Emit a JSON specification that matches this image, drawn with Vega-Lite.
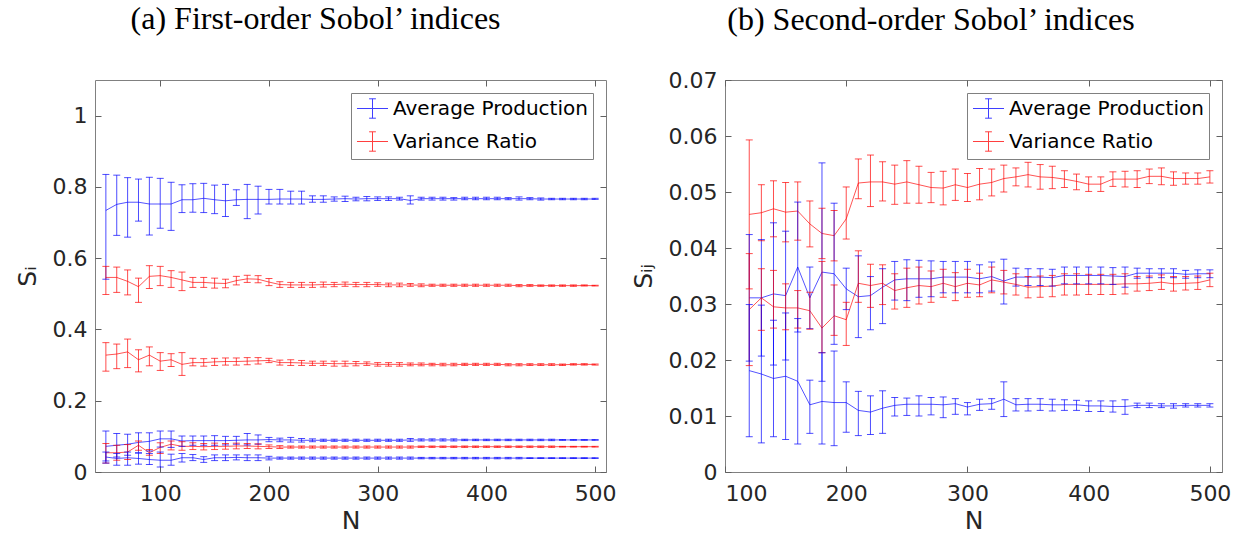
{
  "$schema": "https://vega.github.io/schema/vega-lite/v6.json",
  "autosize": {"type": "none"},
  "padding": {"left": 95, "top": 80, "right": 1138, "bottom": 454},
  "config": {
    "view": {"stroke": "#808080", "strokeWidth": 1},
    "font": "DejaVu Sans",
    "axis": {"grid": false, "domain": false, "tickColor": "#606060", "tickSize": -6, "labelFontSize": 22, "titleFontSize": 25, "labelFont": "DejaVu Sans", "titleFont": "DejaVu Sans", "labelColor": "#262626", "titleColor": "#262626", "titleFontWeight": "normal", "labelPadding": 14},
    "title": {"font": "Liberation Serif", "fontSize": 32, "fontWeight": "normal", "color": "black", "frame": "bounds", "anchor": "middle", "baseline": "alphabetic"},
    "legend": {"orient": "top-right", "offset": 13, "title": null, "padding": 5, "strokeColor": "#808080", "fillColor": "white", "labelFontSize": 20, "labelFont": "DejaVu Sans", "labelColor": "black", "labelLimit": 400, "symbolType": "M-1.6,0H1.6M0,-1V1M-0.35,-1H0.35M-0.35,1H0.35", "symbolSize": 376, "symbolStrokeWidth": 1, "symbolFillColor": "transparent", "symbolOpacity": 0.75, "symbolOffset": 6, "labelOffset": 10, "rowPadding": 8}
  },
  "datasets": {
    "first": [
      {"series":"Average Production","k":1,"N":50,"mean":0.734,"lower":0.541,"upper":0.835},
      {"series":"Average Production","k":1,"N":60,"mean":0.751,"lower":0.664,"upper":0.833},
      {"series":"Average Production","k":1,"N":70,"mean":0.757,"lower":0.659,"upper":0.826},
      {"series":"Average Production","k":1,"N":80,"mean":0.757,"lower":0.704,"upper":0.822},
      {"series":"Average Production","k":1,"N":90,"mean":0.752,"lower":0.665,"upper":0.827},
      {"series":"Average Production","k":1,"N":100,"mean":0.752,"lower":0.684,"upper":0.824},
      {"series":"Average Production","k":1,"N":110,"mean":0.752,"lower":0.678,"upper":0.813},
      {"series":"Average Production","k":1,"N":120,"mean":0.764,"lower":0.728,"upper":0.806},
      {"series":"Average Production","k":1,"N":130,"mean":0.764,"lower":0.729,"upper":0.809},
      {"series":"Average Production","k":1,"N":140,"mean":0.768,"lower":0.728,"upper":0.810},
      {"series":"Average Production","k":1,"N":150,"mean":0.764,"lower":0.725,"upper":0.805},
      {"series":"Average Production","k":1,"N":160,"mean":0.761,"lower":0.717,"upper":0.807},
      {"series":"Average Production","k":1,"N":170,"mean":0.764,"lower":0.748,"upper":0.792},
      {"series":"Average Production","k":1,"N":180,"mean":0.765,"lower":0.711,"upper":0.807},
      {"series":"Average Production","k":1,"N":190,"mean":0.765,"lower":0.724,"upper":0.802},
      {"series":"Average Production","k":1,"N":200,"mean":0.765,"lower":0.752,"upper":0.793},
      {"series":"Average Production","k":1,"N":210,"mean":0.766,"lower":0.752,"upper":0.793},
      {"series":"Average Production","k":1,"N":220,"mean":0.766,"lower":0.752,"upper":0.788},
      {"series":"Average Production","k":1,"N":230,"mean":0.766,"lower":0.752,"upper":0.788},
      {"series":"Average Production","k":1,"N":240,"mean":0.765,"lower":0.757,"upper":0.775},
      {"series":"Average Production","k":1,"N":250,"mean":0.765,"lower":0.757,"upper":0.775},
      {"series":"Average Production","k":1,"N":260,"mean":0.766,"lower":0.760,"upper":0.772},
      {"series":"Average Production","k":1,"N":270,"mean":0.767,"lower":0.759,"upper":0.774},
      {"series":"Average Production","k":1,"N":280,"mean":0.766,"lower":0.761,"upper":0.771},
      {"series":"Average Production","k":1,"N":290,"mean":0.767,"lower":0.761,"upper":0.773},
      {"series":"Average Production","k":1,"N":300,"mean":0.767,"lower":0.762,"upper":0.772},
      {"series":"Average Production","k":1,"N":310,"mean":0.767,"lower":0.762,"upper":0.772},
      {"series":"Average Production","k":1,"N":320,"mean":0.767,"lower":0.763,"upper":0.771},
      {"series":"Average Production","k":1,"N":330,"mean":0.762,"lower":0.752,"upper":0.775},
      {"series":"Average Production","k":1,"N":340,"mean":0.767,"lower":0.763,"upper":0.771},
      {"series":"Average Production","k":1,"N":350,"mean":0.767,"lower":0.763,"upper":0.771},
      {"series":"Average Production","k":1,"N":360,"mean":0.767,"lower":0.763,"upper":0.771},
      {"series":"Average Production","k":1,"N":370,"mean":0.767,"lower":0.763,"upper":0.770},
      {"series":"Average Production","k":1,"N":380,"mean":0.767,"lower":0.764,"upper":0.771},
      {"series":"Average Production","k":1,"N":390,"mean":0.767,"lower":0.764,"upper":0.771},
      {"series":"Average Production","k":1,"N":400,"mean":0.767,"lower":0.764,"upper":0.771},
      {"series":"Average Production","k":1,"N":410,"mean":0.767,"lower":0.764,"upper":0.771},
      {"series":"Average Production","k":1,"N":420,"mean":0.767,"lower":0.764,"upper":0.770},
      {"series":"Average Production","k":1,"N":430,"mean":0.767,"lower":0.763,"upper":0.772},
      {"series":"Average Production","k":1,"N":440,"mean":0.767,"lower":0.764,"upper":0.770},
      {"series":"Average Production","k":1,"N":450,"mean":0.766,"lower":0.763,"upper":0.769},
      {"series":"Average Production","k":1,"N":460,"mean":0.766,"lower":0.764,"upper":0.768},
      {"series":"Average Production","k":1,"N":470,"mean":0.766,"lower":0.764,"upper":0.768},
      {"series":"Average Production","k":1,"N":480,"mean":0.766,"lower":0.764,"upper":0.768},
      {"series":"Average Production","k":1,"N":490,"mean":0.766,"lower":0.764,"upper":0.768},
      {"series":"Average Production","k":1,"N":500,"mean":0.766,"lower":0.765,"upper":0.768},

      {"series":"Variance Ratio","k":1,"N":50,"mean":0.546,"lower":0.498,"upper":0.577},
      {"series":"Variance Ratio","k":1,"N":60,"mean":0.546,"lower":0.504,"upper":0.575},
      {"series":"Variance Ratio","k":1,"N":70,"mean":0.535,"lower":0.497,"upper":0.567},
      {"series":"Variance Ratio","k":1,"N":80,"mean":0.520,"lower":0.476,"upper":0.544},
      {"series":"Variance Ratio","k":1,"N":90,"mean":0.549,"lower":0.515,"upper":0.579},
      {"series":"Variance Ratio","k":1,"N":100,"mean":0.551,"lower":0.523,"upper":0.577},
      {"series":"Variance Ratio","k":1,"N":110,"mean":0.546,"lower":0.518,"upper":0.565},
      {"series":"Variance Ratio","k":1,"N":120,"mean":0.539,"lower":0.509,"upper":0.561},
      {"series":"Variance Ratio","k":1,"N":130,"mean":0.532,"lower":0.518,"upper":0.546},
      {"series":"Variance Ratio","k":1,"N":140,"mean":0.532,"lower":0.518,"upper":0.546},
      {"series":"Variance Ratio","k":1,"N":150,"mean":0.530,"lower":0.516,"upper":0.544},
      {"series":"Variance Ratio","k":1,"N":160,"mean":0.529,"lower":0.517,"upper":0.541},
      {"series":"Variance Ratio","k":1,"N":170,"mean":0.537,"lower":0.525,"upper":0.549},
      {"series":"Variance Ratio","k":1,"N":180,"mean":0.542,"lower":0.532,"upper":0.552},
      {"series":"Variance Ratio","k":1,"N":190,"mean":0.541,"lower":0.531,"upper":0.551},
      {"series":"Variance Ratio","k":1,"N":200,"mean":0.533,"lower":0.523,"upper":0.543},
      {"series":"Variance Ratio","k":1,"N":210,"mean":0.526,"lower":0.518,"upper":0.534},
      {"series":"Variance Ratio","k":1,"N":220,"mean":0.525,"lower":0.518,"upper":0.532},
      {"series":"Variance Ratio","k":1,"N":230,"mean":0.525,"lower":0.518,"upper":0.532},
      {"series":"Variance Ratio","k":1,"N":240,"mean":0.525,"lower":0.518,"upper":0.532},
      {"series":"Variance Ratio","k":1,"N":250,"mean":0.526,"lower":0.519,"upper":0.533},
      {"series":"Variance Ratio","k":1,"N":260,"mean":0.526,"lower":0.520,"upper":0.532},
      {"series":"Variance Ratio","k":1,"N":270,"mean":0.527,"lower":0.521,"upper":0.533},
      {"series":"Variance Ratio","k":1,"N":280,"mean":0.526,"lower":0.520,"upper":0.532},
      {"series":"Variance Ratio","k":1,"N":290,"mean":0.526,"lower":0.520,"upper":0.532},
      {"series":"Variance Ratio","k":1,"N":300,"mean":0.526,"lower":0.521,"upper":0.531},
      {"series":"Variance Ratio","k":1,"N":310,"mean":0.525,"lower":0.520,"upper":0.530},
      {"series":"Variance Ratio","k":1,"N":320,"mean":0.525,"lower":0.520,"upper":0.530},
      {"series":"Variance Ratio","k":1,"N":330,"mean":0.525,"lower":0.521,"upper":0.529},
      {"series":"Variance Ratio","k":1,"N":340,"mean":0.524,"lower":0.520,"upper":0.528},
      {"series":"Variance Ratio","k":1,"N":350,"mean":0.524,"lower":0.521,"upper":0.527},
      {"series":"Variance Ratio","k":1,"N":360,"mean":0.524,"lower":0.521,"upper":0.527},
      {"series":"Variance Ratio","k":1,"N":370,"mean":0.524,"lower":0.521,"upper":0.527},
      {"series":"Variance Ratio","k":1,"N":380,"mean":0.524,"lower":0.521,"upper":0.527},
      {"series":"Variance Ratio","k":1,"N":390,"mean":0.524,"lower":0.521,"upper":0.527},
      {"series":"Variance Ratio","k":1,"N":400,"mean":0.524,"lower":0.521,"upper":0.527},
      {"series":"Variance Ratio","k":1,"N":410,"mean":0.524,"lower":0.521,"upper":0.527},
      {"series":"Variance Ratio","k":1,"N":420,"mean":0.524,"lower":0.521,"upper":0.527},
      {"series":"Variance Ratio","k":1,"N":430,"mean":0.523,"lower":0.520,"upper":0.526},
      {"series":"Variance Ratio","k":1,"N":440,"mean":0.523,"lower":0.521,"upper":0.526},
      {"series":"Variance Ratio","k":1,"N":450,"mean":0.523,"lower":0.521,"upper":0.525},
      {"series":"Variance Ratio","k":1,"N":460,"mean":0.523,"lower":0.521,"upper":0.525},
      {"series":"Variance Ratio","k":1,"N":470,"mean":0.523,"lower":0.521,"upper":0.525},
      {"series":"Variance Ratio","k":1,"N":480,"mean":0.523,"lower":0.521,"upper":0.525},
      {"series":"Variance Ratio","k":1,"N":490,"mean":0.523,"lower":0.522,"upper":0.525},
      {"series":"Variance Ratio","k":1,"N":500,"mean":0.523,"lower":0.522,"upper":0.524},

      {"series":"Variance Ratio","k":2,"N":50,"mean":0.328,"lower":0.283,"upper":0.363},
      {"series":"Variance Ratio","k":2,"N":60,"mean":0.331,"lower":0.290,"upper":0.359},
      {"series":"Variance Ratio","k":2,"N":70,"mean":0.337,"lower":0.293,"upper":0.373},
      {"series":"Variance Ratio","k":2,"N":80,"mean":0.315,"lower":0.281,"upper":0.343},
      {"series":"Variance Ratio","k":2,"N":90,"mean":0.328,"lower":0.298,"upper":0.351},
      {"series":"Variance Ratio","k":2,"N":100,"mean":0.311,"lower":0.285,"upper":0.335},
      {"series":"Variance Ratio","k":2,"N":110,"mean":0.315,"lower":0.296,"upper":0.332},
      {"series":"Variance Ratio","k":2,"N":120,"mean":0.302,"lower":0.271,"upper":0.335},
      {"series":"Variance Ratio","k":2,"N":130,"mean":0.307,"lower":0.298,"upper":0.319},
      {"series":"Variance Ratio","k":2,"N":140,"mean":0.307,"lower":0.297,"upper":0.318},
      {"series":"Variance Ratio","k":2,"N":150,"mean":0.309,"lower":0.299,"upper":0.319},
      {"series":"Variance Ratio","k":2,"N":160,"mean":0.310,"lower":0.300,"upper":0.320},
      {"series":"Variance Ratio","k":2,"N":170,"mean":0.310,"lower":0.300,"upper":0.320},
      {"series":"Variance Ratio","k":2,"N":180,"mean":0.311,"lower":0.301,"upper":0.321},
      {"series":"Variance Ratio","k":2,"N":190,"mean":0.312,"lower":0.303,"upper":0.321},
      {"series":"Variance Ratio","k":2,"N":200,"mean":0.313,"lower":0.307,"upper":0.319},
      {"series":"Variance Ratio","k":2,"N":210,"mean":0.307,"lower":0.300,"upper":0.314},
      {"series":"Variance Ratio","k":2,"N":220,"mean":0.307,"lower":0.299,"upper":0.315},
      {"series":"Variance Ratio","k":2,"N":230,"mean":0.306,"lower":0.299,"upper":0.313},
      {"series":"Variance Ratio","k":2,"N":240,"mean":0.305,"lower":0.299,"upper":0.311},
      {"series":"Variance Ratio","k":2,"N":250,"mean":0.305,"lower":0.299,"upper":0.311},
      {"series":"Variance Ratio","k":2,"N":260,"mean":0.304,"lower":0.297,"upper":0.311},
      {"series":"Variance Ratio","k":2,"N":270,"mean":0.304,"lower":0.297,"upper":0.311},
      {"series":"Variance Ratio","k":2,"N":280,"mean":0.304,"lower":0.298,"upper":0.310},
      {"series":"Variance Ratio","k":2,"N":290,"mean":0.304,"lower":0.299,"upper":0.309},
      {"series":"Variance Ratio","k":2,"N":300,"mean":0.302,"lower":0.297,"upper":0.307},
      {"series":"Variance Ratio","k":2,"N":310,"mean":0.302,"lower":0.297,"upper":0.307},
      {"series":"Variance Ratio","k":2,"N":320,"mean":0.302,"lower":0.297,"upper":0.307},
      {"series":"Variance Ratio","k":2,"N":330,"mean":0.302,"lower":0.298,"upper":0.306},
      {"series":"Variance Ratio","k":2,"N":340,"mean":0.302,"lower":0.298,"upper":0.306},
      {"series":"Variance Ratio","k":2,"N":350,"mean":0.302,"lower":0.298,"upper":0.305},
      {"series":"Variance Ratio","k":2,"N":360,"mean":0.301,"lower":0.298,"upper":0.305},
      {"series":"Variance Ratio","k":2,"N":370,"mean":0.301,"lower":0.298,"upper":0.305},
      {"series":"Variance Ratio","k":2,"N":380,"mean":0.302,"lower":0.299,"upper":0.305},
      {"series":"Variance Ratio","k":2,"N":390,"mean":0.302,"lower":0.299,"upper":0.305},
      {"series":"Variance Ratio","k":2,"N":400,"mean":0.302,"lower":0.299,"upper":0.305},
      {"series":"Variance Ratio","k":2,"N":410,"mean":0.302,"lower":0.299,"upper":0.305},
      {"series":"Variance Ratio","k":2,"N":420,"mean":0.301,"lower":0.298,"upper":0.304},
      {"series":"Variance Ratio","k":2,"N":430,"mean":0.301,"lower":0.298,"upper":0.304},
      {"series":"Variance Ratio","k":2,"N":440,"mean":0.301,"lower":0.299,"upper":0.304},
      {"series":"Variance Ratio","k":2,"N":450,"mean":0.301,"lower":0.299,"upper":0.304},
      {"series":"Variance Ratio","k":2,"N":460,"mean":0.301,"lower":0.299,"upper":0.304},
      {"series":"Variance Ratio","k":2,"N":470,"mean":0.301,"lower":0.299,"upper":0.303},
      {"series":"Variance Ratio","k":2,"N":480,"mean":0.302,"lower":0.300,"upper":0.304},
      {"series":"Variance Ratio","k":2,"N":490,"mean":0.302,"lower":0.300,"upper":0.304},
      {"series":"Variance Ratio","k":2,"N":500,"mean":0.302,"lower":0.300,"upper":0.303},

      {"series":"Average Production","k":2,"N":50,"mean":0.072,"lower":0.031,"upper":0.115},
      {"series":"Average Production","k":2,"N":60,"mean":0.075,"lower":0.042,"upper":0.108},
      {"series":"Average Production","k":2,"N":70,"mean":0.078,"lower":0.047,"upper":0.106},
      {"series":"Average Production","k":2,"N":80,"mean":0.083,"lower":0.054,"upper":0.110},
      {"series":"Average Production","k":2,"N":90,"mean":0.086,"lower":0.059,"upper":0.110},
      {"series":"Average Production","k":2,"N":100,"mean":0.093,"lower":0.070,"upper":0.115},
      {"series":"Average Production","k":2,"N":110,"mean":0.093,"lower":0.069,"upper":0.115},
      {"series":"Average Production","k":2,"N":120,"mean":0.087,"lower":0.072,"upper":0.101},
      {"series":"Average Production","k":2,"N":130,"mean":0.088,"lower":0.075,"upper":0.101},
      {"series":"Average Production","k":2,"N":140,"mean":0.088,"lower":0.075,"upper":0.101},
      {"series":"Average Production","k":2,"N":150,"mean":0.088,"lower":0.075,"upper":0.102},
      {"series":"Average Production","k":2,"N":160,"mean":0.088,"lower":0.076,"upper":0.100},
      {"series":"Average Production","k":2,"N":170,"mean":0.089,"lower":0.078,"upper":0.100},
      {"series":"Average Production","k":2,"N":180,"mean":0.090,"lower":0.076,"upper":0.108},
      {"series":"Average Production","k":2,"N":190,"mean":0.090,"lower":0.078,"upper":0.104},
      {"series":"Average Production","k":2,"N":200,"mean":0.091,"lower":0.085,"upper":0.097},
      {"series":"Average Production","k":2,"N":210,"mean":0.090,"lower":0.085,"upper":0.095},
      {"series":"Average Production","k":2,"N":220,"mean":0.090,"lower":0.084,"upper":0.097},
      {"series":"Average Production","k":2,"N":230,"mean":0.089,"lower":0.084,"upper":0.094},
      {"series":"Average Production","k":2,"N":240,"mean":0.089,"lower":0.085,"upper":0.093},
      {"series":"Average Production","k":2,"N":250,"mean":0.089,"lower":0.086,"upper":0.092},
      {"series":"Average Production","k":2,"N":260,"mean":0.089,"lower":0.086,"upper":0.092},
      {"series":"Average Production","k":2,"N":270,"mean":0.089,"lower":0.086,"upper":0.092},
      {"series":"Average Production","k":2,"N":280,"mean":0.089,"lower":0.086,"upper":0.092},
      {"series":"Average Production","k":2,"N":290,"mean":0.089,"lower":0.086,"upper":0.092},
      {"series":"Average Production","k":2,"N":300,"mean":0.089,"lower":0.086,"upper":0.092},
      {"series":"Average Production","k":2,"N":310,"mean":0.089,"lower":0.086,"upper":0.092},
      {"series":"Average Production","k":2,"N":320,"mean":0.089,"lower":0.086,"upper":0.092},
      {"series":"Average Production","k":2,"N":330,"mean":0.090,"lower":0.086,"upper":0.094},
      {"series":"Average Production","k":2,"N":340,"mean":0.090,"lower":0.087,"upper":0.093},
      {"series":"Average Production","k":2,"N":350,"mean":0.090,"lower":0.087,"upper":0.093},
      {"series":"Average Production","k":2,"N":360,"mean":0.090,"lower":0.087,"upper":0.093},
      {"series":"Average Production","k":2,"N":370,"mean":0.090,"lower":0.087,"upper":0.093},
      {"series":"Average Production","k":2,"N":380,"mean":0.090,"lower":0.088,"upper":0.092},
      {"series":"Average Production","k":2,"N":390,"mean":0.090,"lower":0.088,"upper":0.092},
      {"series":"Average Production","k":2,"N":400,"mean":0.090,"lower":0.088,"upper":0.092},
      {"series":"Average Production","k":2,"N":410,"mean":0.090,"lower":0.088,"upper":0.092},
      {"series":"Average Production","k":2,"N":420,"mean":0.090,"lower":0.088,"upper":0.092},
      {"series":"Average Production","k":2,"N":430,"mean":0.090,"lower":0.088,"upper":0.092},
      {"series":"Average Production","k":2,"N":440,"mean":0.090,"lower":0.088,"upper":0.092},
      {"series":"Average Production","k":2,"N":450,"mean":0.090,"lower":0.088,"upper":0.092},
      {"series":"Average Production","k":2,"N":460,"mean":0.090,"lower":0.088,"upper":0.092},
      {"series":"Average Production","k":2,"N":470,"mean":0.090,"lower":0.089,"upper":0.091},
      {"series":"Average Production","k":2,"N":480,"mean":0.090,"lower":0.089,"upper":0.091},
      {"series":"Average Production","k":2,"N":490,"mean":0.090,"lower":0.089,"upper":0.091},
      {"series":"Average Production","k":2,"N":500,"mean":0.090,"lower":0.089,"upper":0.091},

      {"series":"Variance Ratio","k":3,"N":50,"mean":0.054,"lower":0.025,"upper":0.080},
      {"series":"Variance Ratio","k":3,"N":60,"mean":0.054,"lower":0.033,"upper":0.075},
      {"series":"Variance Ratio","k":3,"N":70,"mean":0.056,"lower":0.035,"upper":0.077},
      {"series":"Variance Ratio","k":3,"N":80,"mean":0.075,"lower":0.061,"upper":0.087},
      {"series":"Variance Ratio","k":3,"N":90,"mean":0.054,"lower":0.047,"upper":0.063},
      {"series":"Variance Ratio","k":3,"N":100,"mean":0.069,"lower":0.052,"upper":0.082},
      {"series":"Variance Ratio","k":3,"N":110,"mean":0.078,"lower":0.062,"upper":0.087},
      {"series":"Variance Ratio","k":3,"N":120,"mean":0.072,"lower":0.061,"upper":0.085},
      {"series":"Variance Ratio","k":3,"N":130,"mean":0.072,"lower":0.063,"upper":0.082},
      {"series":"Variance Ratio","k":3,"N":140,"mean":0.071,"lower":0.062,"upper":0.080},
      {"series":"Variance Ratio","k":3,"N":150,"mean":0.072,"lower":0.063,"upper":0.081},
      {"series":"Variance Ratio","k":3,"N":160,"mean":0.072,"lower":0.064,"upper":0.080},
      {"series":"Variance Ratio","k":3,"N":170,"mean":0.073,"lower":0.065,"upper":0.081},
      {"series":"Variance Ratio","k":3,"N":180,"mean":0.073,"lower":0.066,"upper":0.080},
      {"series":"Variance Ratio","k":3,"N":190,"mean":0.072,"lower":0.065,"upper":0.079},
      {"series":"Variance Ratio","k":3,"N":200,"mean":0.071,"lower":0.066,"upper":0.076},
      {"series":"Variance Ratio","k":3,"N":210,"mean":0.070,"lower":0.066,"upper":0.074},
      {"series":"Variance Ratio","k":3,"N":220,"mean":0.070,"lower":0.067,"upper":0.073},
      {"series":"Variance Ratio","k":3,"N":230,"mean":0.070,"lower":0.067,"upper":0.073},
      {"series":"Variance Ratio","k":3,"N":240,"mean":0.070,"lower":0.067,"upper":0.073},
      {"series":"Variance Ratio","k":3,"N":250,"mean":0.070,"lower":0.067,"upper":0.073},
      {"series":"Variance Ratio","k":3,"N":260,"mean":0.070,"lower":0.067,"upper":0.073},
      {"series":"Variance Ratio","k":3,"N":270,"mean":0.070,"lower":0.067,"upper":0.073},
      {"series":"Variance Ratio","k":3,"N":280,"mean":0.070,"lower":0.067,"upper":0.073},
      {"series":"Variance Ratio","k":3,"N":290,"mean":0.070,"lower":0.067,"upper":0.073},
      {"series":"Variance Ratio","k":3,"N":300,"mean":0.070,"lower":0.067,"upper":0.073},
      {"series":"Variance Ratio","k":3,"N":310,"mean":0.070,"lower":0.067,"upper":0.073},
      {"series":"Variance Ratio","k":3,"N":320,"mean":0.070,"lower":0.067,"upper":0.073},
      {"series":"Variance Ratio","k":3,"N":330,"mean":0.070,"lower":0.067,"upper":0.073},
      {"series":"Variance Ratio","k":3,"N":340,"mean":0.071,"lower":0.069,"upper":0.073},
      {"series":"Variance Ratio","k":3,"N":350,"mean":0.071,"lower":0.069,"upper":0.073},
      {"series":"Variance Ratio","k":3,"N":360,"mean":0.071,"lower":0.069,"upper":0.073},
      {"series":"Variance Ratio","k":3,"N":370,"mean":0.071,"lower":0.069,"upper":0.073},
      {"series":"Variance Ratio","k":3,"N":380,"mean":0.071,"lower":0.069,"upper":0.073},
      {"series":"Variance Ratio","k":3,"N":390,"mean":0.071,"lower":0.069,"upper":0.073},
      {"series":"Variance Ratio","k":3,"N":400,"mean":0.071,"lower":0.069,"upper":0.073},
      {"series":"Variance Ratio","k":3,"N":410,"mean":0.071,"lower":0.069,"upper":0.073},
      {"series":"Variance Ratio","k":3,"N":420,"mean":0.071,"lower":0.069,"upper":0.073},
      {"series":"Variance Ratio","k":3,"N":430,"mean":0.071,"lower":0.069,"upper":0.073},
      {"series":"Variance Ratio","k":3,"N":440,"mean":0.071,"lower":0.069,"upper":0.073},
      {"series":"Variance Ratio","k":3,"N":450,"mean":0.071,"lower":0.069,"upper":0.073},
      {"series":"Variance Ratio","k":3,"N":460,"mean":0.071,"lower":0.069,"upper":0.073},
      {"series":"Variance Ratio","k":3,"N":470,"mean":0.071,"lower":0.070,"upper":0.072},
      {"series":"Variance Ratio","k":3,"N":480,"mean":0.071,"lower":0.070,"upper":0.072},
      {"series":"Variance Ratio","k":3,"N":490,"mean":0.071,"lower":0.070,"upper":0.072},
      {"series":"Variance Ratio","k":3,"N":500,"mean":0.071,"lower":0.070,"upper":0.072},

      {"series":"Average Production","k":3,"N":50,"mean":0.042,"lower":0.025,"upper":0.056},
      {"series":"Average Production","k":3,"N":60,"mean":0.038,"lower":0.019,"upper":0.052},
      {"series":"Average Production","k":3,"N":70,"mean":0.040,"lower":0.019,"upper":0.056},
      {"series":"Average Production","k":3,"N":80,"mean":0.038,"lower":0.022,"upper":0.053},
      {"series":"Average Production","k":3,"N":90,"mean":0.035,"lower":0.021,"upper":0.052},
      {"series":"Average Production","k":3,"N":100,"mean":0.033,"lower":0.014,"upper":0.056},
      {"series":"Average Production","k":3,"N":110,"mean":0.033,"lower":0.019,"upper":0.050},
      {"series":"Average Production","k":3,"N":120,"mean":0.040,"lower":0.028,"upper":0.052},
      {"series":"Average Production","k":3,"N":130,"mean":0.040,"lower":0.032,"upper":0.049},
      {"series":"Average Production","k":3,"N":140,"mean":0.035,"lower":0.027,"upper":0.043},
      {"series":"Average Production","k":3,"N":150,"mean":0.040,"lower":0.032,"upper":0.048},
      {"series":"Average Production","k":3,"N":160,"mean":0.040,"lower":0.032,"upper":0.048},
      {"series":"Average Production","k":3,"N":170,"mean":0.041,"lower":0.034,"upper":0.048},
      {"series":"Average Production","k":3,"N":180,"mean":0.040,"lower":0.032,"upper":0.048},
      {"series":"Average Production","k":3,"N":190,"mean":0.040,"lower":0.032,"upper":0.048},
      {"series":"Average Production","k":3,"N":200,"mean":0.039,"lower":0.034,"upper":0.044},
      {"series":"Average Production","k":3,"N":210,"mean":0.039,"lower":0.036,"upper":0.042},
      {"series":"Average Production","k":3,"N":220,"mean":0.039,"lower":0.036,"upper":0.042},
      {"series":"Average Production","k":3,"N":230,"mean":0.039,"lower":0.036,"upper":0.042},
      {"series":"Average Production","k":3,"N":240,"mean":0.039,"lower":0.036,"upper":0.042},
      {"series":"Average Production","k":3,"N":250,"mean":0.039,"lower":0.036,"upper":0.042},
      {"series":"Average Production","k":3,"N":260,"mean":0.039,"lower":0.036,"upper":0.042},
      {"series":"Average Production","k":3,"N":270,"mean":0.039,"lower":0.036,"upper":0.042},
      {"series":"Average Production","k":3,"N":280,"mean":0.039,"lower":0.036,"upper":0.042},
      {"series":"Average Production","k":3,"N":290,"mean":0.039,"lower":0.036,"upper":0.042},
      {"series":"Average Production","k":3,"N":300,"mean":0.039,"lower":0.036,"upper":0.042},
      {"series":"Average Production","k":3,"N":310,"mean":0.039,"lower":0.036,"upper":0.042},
      {"series":"Average Production","k":3,"N":320,"mean":0.039,"lower":0.036,"upper":0.042},
      {"series":"Average Production","k":3,"N":330,"mean":0.039,"lower":0.036,"upper":0.042},
      {"series":"Average Production","k":3,"N":340,"mean":0.039,"lower":0.037,"upper":0.041},
      {"series":"Average Production","k":3,"N":350,"mean":0.039,"lower":0.037,"upper":0.041},
      {"series":"Average Production","k":3,"N":360,"mean":0.039,"lower":0.037,"upper":0.041},
      {"series":"Average Production","k":3,"N":370,"mean":0.039,"lower":0.037,"upper":0.041},
      {"series":"Average Production","k":3,"N":380,"mean":0.039,"lower":0.037,"upper":0.041},
      {"series":"Average Production","k":3,"N":390,"mean":0.039,"lower":0.037,"upper":0.041},
      {"series":"Average Production","k":3,"N":400,"mean":0.039,"lower":0.037,"upper":0.041},
      {"series":"Average Production","k":3,"N":410,"mean":0.039,"lower":0.037,"upper":0.041},
      {"series":"Average Production","k":3,"N":420,"mean":0.039,"lower":0.037,"upper":0.041},
      {"series":"Average Production","k":3,"N":430,"mean":0.039,"lower":0.037,"upper":0.041},
      {"series":"Average Production","k":3,"N":440,"mean":0.039,"lower":0.038,"upper":0.040},
      {"series":"Average Production","k":3,"N":450,"mean":0.039,"lower":0.038,"upper":0.040},
      {"series":"Average Production","k":3,"N":460,"mean":0.039,"lower":0.038,"upper":0.040},
      {"series":"Average Production","k":3,"N":470,"mean":0.039,"lower":0.038,"upper":0.040},
      {"series":"Average Production","k":3,"N":480,"mean":0.039,"lower":0.038,"upper":0.040},
      {"series":"Average Production","k":3,"N":490,"mean":0.039,"lower":0.038,"upper":0.040},
      {"series":"Average Production","k":3,"N":500,"mean":0.039,"lower":0.038,"upper":0.040}
    ],
    "second": [
      {"series":"Variance Ratio","k":1,"N":120,"mean":0.0460,"lower":0.0327,"upper":0.0593},
      {"series":"Variance Ratio","k":1,"N":130,"mean":0.0463,"lower":0.0413,"upper":0.0513},
      {"series":"Variance Ratio","k":1,"N":140,"mean":0.0470,"lower":0.0420,"upper":0.0520},
      {"series":"Variance Ratio","k":1,"N":150,"mean":0.0464,"lower":0.0411,"upper":0.0517},
      {"series":"Variance Ratio","k":1,"N":160,"mean":0.0466,"lower":0.0414,"upper":0.0518},
      {"series":"Variance Ratio","k":1,"N":170,"mean":0.0443,"lower":0.0402,"upper":0.0484},
      {"series":"Variance Ratio","k":1,"N":180,"mean":0.0426,"lower":0.0381,"upper":0.0471},
      {"series":"Variance Ratio","k":1,"N":190,"mean":0.0422,"lower":0.0377,"upper":0.0467},
      {"series":"Variance Ratio","k":1,"N":200,"mean":0.0452,"lower":0.0416,"upper":0.0509},
      {"series":"Variance Ratio","k":1,"N":210,"mean":0.0516,"lower":0.0488,"upper":0.0559},
      {"series":"Variance Ratio","k":1,"N":220,"mean":0.0518,"lower":0.0474,"upper":0.0566},
      {"series":"Variance Ratio","k":1,"N":230,"mean":0.0518,"lower":0.0484,"upper":0.0554},
      {"series":"Variance Ratio","k":1,"N":240,"mean":0.0514,"lower":0.0478,"upper":0.0548},
      {"series":"Variance Ratio","k":1,"N":250,"mean":0.0518,"lower":0.0480,"upper":0.0556},
      {"series":"Variance Ratio","k":1,"N":260,"mean":0.0513,"lower":0.0480,"upper":0.0546},
      {"series":"Variance Ratio","k":1,"N":270,"mean":0.0508,"lower":0.0481,"upper":0.0535},
      {"series":"Variance Ratio","k":1,"N":280,"mean":0.0507,"lower":0.0477,"upper":0.0537},
      {"series":"Variance Ratio","k":1,"N":290,"mean":0.0513,"lower":0.0485,"upper":0.0541},
      {"series":"Variance Ratio","k":1,"N":300,"mean":0.0508,"lower":0.0483,"upper":0.0533},
      {"series":"Variance Ratio","k":1,"N":310,"mean":0.0514,"lower":0.0486,"upper":0.0542},
      {"series":"Variance Ratio","k":1,"N":320,"mean":0.0517,"lower":0.0493,"upper":0.0541},
      {"series":"Variance Ratio","k":1,"N":330,"mean":0.0524,"lower":0.0500,"upper":0.0548},
      {"series":"Variance Ratio","k":1,"N":340,"mean":0.0527,"lower":0.0511,"upper":0.0543},
      {"series":"Variance Ratio","k":1,"N":350,"mean":0.0531,"lower":0.0509,"upper":0.0553},
      {"series":"Variance Ratio","k":1,"N":360,"mean":0.0527,"lower":0.0505,"upper":0.0549},
      {"series":"Variance Ratio","k":1,"N":370,"mean":0.0526,"lower":0.0506,"upper":0.0546},
      {"series":"Variance Ratio","k":1,"N":380,"mean":0.0523,"lower":0.0508,"upper":0.0538},
      {"series":"Variance Ratio","k":1,"N":390,"mean":0.0519,"lower":0.0504,"upper":0.0532},
      {"series":"Variance Ratio","k":1,"N":400,"mean":0.0514,"lower":0.0501,"upper":0.0527},
      {"series":"Variance Ratio","k":1,"N":410,"mean":0.0514,"lower":0.0501,"upper":0.0527},
      {"series":"Variance Ratio","k":1,"N":420,"mean":0.0523,"lower":0.0510,"upper":0.0536},
      {"series":"Variance Ratio","k":1,"N":430,"mean":0.0523,"lower":0.0509,"upper":0.0537},
      {"series":"Variance Ratio","k":1,"N":440,"mean":0.0523,"lower":0.0508,"upper":0.0538},
      {"series":"Variance Ratio","k":1,"N":450,"mean":0.0528,"lower":0.0515,"upper":0.0541},
      {"series":"Variance Ratio","k":1,"N":460,"mean":0.0528,"lower":0.0513,"upper":0.0543},
      {"series":"Variance Ratio","k":1,"N":470,"mean":0.0524,"lower":0.0512,"upper":0.0536},
      {"series":"Variance Ratio","k":1,"N":480,"mean":0.0524,"lower":0.0514,"upper":0.0534},
      {"series":"Variance Ratio","k":1,"N":490,"mean":0.0524,"lower":0.0514,"upper":0.0534},
      {"series":"Variance Ratio","k":1,"N":500,"mean":0.0527,"lower":0.0516,"upper":0.0538},

      {"series":"Average Production","k":1,"N":120,"mean":0.0311,"lower":0.0198,"upper":0.0424},
      {"series":"Average Production","k":1,"N":130,"mean":0.0311,"lower":0.0207,"upper":0.0415},
      {"series":"Average Production","k":1,"N":140,"mean":0.0318,"lower":0.0191,"upper":0.0445},
      {"series":"Average Production","k":1,"N":150,"mean":0.0315,"lower":0.0200,"upper":0.0430},
      {"series":"Average Production","k":1,"N":160,"mean":0.0366,"lower":0.0250,"upper":0.0482},
      {"series":"Average Production","k":1,"N":170,"mean":0.0311,"lower":0.0256,"upper":0.0366},
      {"series":"Average Production","k":1,"N":180,"mean":0.0357,"lower":0.0162,"upper":0.0552},
      {"series":"Average Production","k":1,"N":190,"mean":0.0354,"lower":0.0228,"upper":0.0480},
      {"series":"Average Production","k":1,"N":200,"mean":0.0327,"lower":0.0290,"upper":0.0364},
      {"series":"Average Production","k":1,"N":210,"mean":0.0313,"lower":0.0240,"upper":0.0386},
      {"series":"Average Production","k":1,"N":220,"mean":0.0315,"lower":0.0254,"upper":0.0349},
      {"series":"Average Production","k":1,"N":230,"mean":0.0330,"lower":0.0265,"upper":0.0363},
      {"series":"Average Production","k":1,"N":240,"mean":0.0343,"lower":0.0307,"upper":0.0376},
      {"series":"Average Production","k":1,"N":250,"mean":0.0345,"lower":0.0306,"upper":0.0379},
      {"series":"Average Production","k":1,"N":260,"mean":0.0345,"lower":0.0312,"upper":0.0378},
      {"series":"Average Production","k":1,"N":270,"mean":0.0345,"lower":0.0313,"upper":0.0377},
      {"series":"Average Production","k":1,"N":280,"mean":0.0348,"lower":0.0320,"upper":0.0376},
      {"series":"Average Production","k":1,"N":290,"mean":0.0348,"lower":0.0320,"upper":0.0376},
      {"series":"Average Production","k":1,"N":300,"mean":0.0348,"lower":0.0320,"upper":0.0376},
      {"series":"Average Production","k":1,"N":310,"mean":0.0345,"lower":0.0320,"upper":0.0370},
      {"series":"Average Production","k":1,"N":320,"mean":0.0349,"lower":0.0323,"upper":0.0375},
      {"series":"Average Production","k":1,"N":330,"mean":0.0341,"lower":0.0300,"upper":0.0380},
      {"series":"Average Production","k":1,"N":340,"mean":0.0348,"lower":0.0332,"upper":0.0364},
      {"series":"Average Production","k":1,"N":350,"mean":0.0348,"lower":0.0333,"upper":0.0363},
      {"series":"Average Production","k":1,"N":360,"mean":0.0348,"lower":0.0333,"upper":0.0363},
      {"series":"Average Production","k":1,"N":370,"mean":0.0347,"lower":0.0332,"upper":0.0362},
      {"series":"Average Production","k":1,"N":380,"mean":0.0351,"lower":0.0336,"upper":0.0366},
      {"series":"Average Production","k":1,"N":390,"mean":0.0351,"lower":0.0336,"upper":0.0366},
      {"series":"Average Production","k":1,"N":400,"mean":0.0351,"lower":0.0336,"upper":0.0366},
      {"series":"Average Production","k":1,"N":410,"mean":0.0351,"lower":0.0336,"upper":0.0366},
      {"series":"Average Production","k":1,"N":420,"mean":0.0350,"lower":0.0335,"upper":0.0365},
      {"series":"Average Production","k":1,"N":430,"mean":0.0349,"lower":0.0330,"upper":0.0366},
      {"series":"Average Production","k":1,"N":440,"mean":0.0355,"lower":0.0346,"upper":0.0364},
      {"series":"Average Production","k":1,"N":450,"mean":0.0355,"lower":0.0347,"upper":0.0363},
      {"series":"Average Production","k":1,"N":460,"mean":0.0355,"lower":0.0347,"upper":0.0363},
      {"series":"Average Production","k":1,"N":470,"mean":0.0355,"lower":0.0347,"upper":0.0363},
      {"series":"Average Production","k":1,"N":480,"mean":0.0353,"lower":0.0346,"upper":0.0360},
      {"series":"Average Production","k":1,"N":490,"mean":0.0354,"lower":0.0347,"upper":0.0361},
      {"series":"Average Production","k":1,"N":500,"mean":0.0354,"lower":0.0347,"upper":0.0361},

      {"series":"Variance Ratio","k":2,"N":120,"mean":0.0290,"lower":0.0190,"upper":0.0390},
      {"series":"Variance Ratio","k":2,"N":130,"mean":0.0311,"lower":0.0253,"upper":0.0363},
      {"series":"Variance Ratio","k":2,"N":140,"mean":0.0295,"lower":0.0257,"upper":0.0360},
      {"series":"Variance Ratio","k":2,"N":150,"mean":0.0293,"lower":0.0254,"upper":0.0336},
      {"series":"Variance Ratio","k":2,"N":160,"mean":0.0293,"lower":0.0257,"upper":0.0324},
      {"series":"Variance Ratio","k":2,"N":170,"mean":0.0288,"lower":0.0255,"upper":0.0321},
      {"series":"Variance Ratio","k":2,"N":180,"mean":0.0257,"lower":0.0213,"upper":0.0376},
      {"series":"Variance Ratio","k":2,"N":190,"mean":0.0279,"lower":0.0244,"upper":0.0334},
      {"series":"Variance Ratio","k":2,"N":200,"mean":0.0272,"lower":0.0226,"upper":0.0303},
      {"series":"Variance Ratio","k":2,"N":210,"mean":0.0337,"lower":0.0303,"upper":0.0395},
      {"series":"Variance Ratio","k":2,"N":220,"mean":0.0333,"lower":0.0294,"upper":0.0371},
      {"series":"Variance Ratio","k":2,"N":230,"mean":0.0337,"lower":0.0299,"upper":0.0370},
      {"series":"Variance Ratio","k":2,"N":240,"mean":0.0324,"lower":0.0291,"upper":0.0354},
      {"series":"Variance Ratio","k":2,"N":250,"mean":0.0329,"lower":0.0294,"upper":0.0364},
      {"series":"Variance Ratio","k":2,"N":260,"mean":0.0333,"lower":0.0300,"upper":0.0366},
      {"series":"Variance Ratio","k":2,"N":270,"mean":0.0331,"lower":0.0303,"upper":0.0359},
      {"series":"Variance Ratio","k":2,"N":280,"mean":0.0337,"lower":0.0312,"upper":0.0362},
      {"series":"Variance Ratio","k":2,"N":290,"mean":0.0331,"lower":0.0306,"upper":0.0356},
      {"series":"Variance Ratio","k":2,"N":300,"mean":0.0337,"lower":0.0312,"upper":0.0362},
      {"series":"Variance Ratio","k":2,"N":310,"mean":0.0334,"lower":0.0313,"upper":0.0355},
      {"series":"Variance Ratio","k":2,"N":320,"mean":0.0343,"lower":0.0320,"upper":0.0366},
      {"series":"Variance Ratio","k":2,"N":330,"mean":0.0339,"lower":0.0318,"upper":0.0360},
      {"series":"Variance Ratio","k":2,"N":340,"mean":0.0335,"lower":0.0316,"upper":0.0354},
      {"series":"Variance Ratio","k":2,"N":350,"mean":0.0330,"lower":0.0311,"upper":0.0349},
      {"series":"Variance Ratio","k":2,"N":360,"mean":0.0331,"lower":0.0312,"upper":0.0350},
      {"series":"Variance Ratio","k":2,"N":370,"mean":0.0332,"lower":0.0313,"upper":0.0351},
      {"series":"Variance Ratio","k":2,"N":380,"mean":0.0335,"lower":0.0316,"upper":0.0354},
      {"series":"Variance Ratio","k":2,"N":390,"mean":0.0335,"lower":0.0316,"upper":0.0354},
      {"series":"Variance Ratio","k":2,"N":400,"mean":0.0335,"lower":0.0317,"upper":0.0353},
      {"series":"Variance Ratio","k":2,"N":410,"mean":0.0335,"lower":0.0317,"upper":0.0353},
      {"series":"Variance Ratio","k":2,"N":420,"mean":0.0335,"lower":0.0317,"upper":0.0353},
      {"series":"Variance Ratio","k":2,"N":430,"mean":0.0336,"lower":0.0318,"upper":0.0354},
      {"series":"Variance Ratio","k":2,"N":440,"mean":0.0336,"lower":0.0323,"upper":0.0349},
      {"series":"Variance Ratio","k":2,"N":450,"mean":0.0337,"lower":0.0324,"upper":0.0350},
      {"series":"Variance Ratio","k":2,"N":460,"mean":0.0339,"lower":0.0326,"upper":0.0352},
      {"series":"Variance Ratio","k":2,"N":470,"mean":0.0336,"lower":0.0323,"upper":0.0349},
      {"series":"Variance Ratio","k":2,"N":480,"mean":0.0337,"lower":0.0325,"upper":0.0349},
      {"series":"Variance Ratio","k":2,"N":490,"mean":0.0338,"lower":0.0326,"upper":0.0350},
      {"series":"Variance Ratio","k":2,"N":500,"mean":0.0343,"lower":0.0331,"upper":0.0355},

      {"series":"Average Production","k":2,"N":120,"mean":0.0181,"lower":0.0063,"upper":0.0299},
      {"series":"Average Production","k":2,"N":130,"mean":0.0175,"lower":0.0052,"upper":0.0298},
      {"series":"Average Production","k":2,"N":140,"mean":0.0167,"lower":0.0063,"upper":0.0271},
      {"series":"Average Production","k":2,"N":150,"mean":0.0171,"lower":0.0058,"upper":0.0284},
      {"series":"Average Production","k":2,"N":160,"mean":0.0162,"lower":0.0050,"upper":0.0274},
      {"series":"Average Production","k":2,"N":170,"mean":0.0120,"lower":0.0069,"upper":0.0164},
      {"series":"Average Production","k":2,"N":180,"mean":0.0126,"lower":0.0050,"upper":0.0213},
      {"series":"Average Production","k":2,"N":190,"mean":0.0124,"lower":0.0047,"upper":0.0216},
      {"series":"Average Production","k":2,"N":200,"mean":0.0124,"lower":0.0071,"upper":0.0161},
      {"series":"Average Production","k":2,"N":210,"mean":0.0110,"lower":0.0065,"upper":0.0144},
      {"series":"Average Production","k":2,"N":220,"mean":0.0107,"lower":0.0067,"upper":0.0136},
      {"series":"Average Production","k":2,"N":230,"mean":0.0114,"lower":0.0069,"upper":0.0145},
      {"series":"Average Production","k":2,"N":240,"mean":0.0119,"lower":0.0100,"upper":0.0133},
      {"series":"Average Production","k":2,"N":250,"mean":0.0121,"lower":0.0101,"upper":0.0132},
      {"series":"Average Production","k":2,"N":260,"mean":0.0121,"lower":0.0100,"upper":0.0136},
      {"series":"Average Production","k":2,"N":270,"mean":0.0121,"lower":0.0102,"upper":0.0133},
      {"series":"Average Production","k":2,"N":280,"mean":0.0120,"lower":0.0097,"upper":0.0134},
      {"series":"Average Production","k":2,"N":290,"mean":0.0122,"lower":0.0103,"upper":0.0131},
      {"series":"Average Production","k":2,"N":300,"mean":0.0116,"lower":0.0102,"upper":0.0124},
      {"series":"Average Production","k":2,"N":310,"mean":0.0121,"lower":0.0110,"upper":0.0130},
      {"series":"Average Production","k":2,"N":320,"mean":0.0122,"lower":0.0112,"upper":0.0131},
      {"series":"Average Production","k":2,"N":330,"mean":0.0130,"lower":0.0099,"upper":0.0161},
      {"series":"Average Production","k":2,"N":340,"mean":0.0120,"lower":0.0109,"upper":0.0131},
      {"series":"Average Production","k":2,"N":350,"mean":0.0121,"lower":0.0109,"upper":0.0131},
      {"series":"Average Production","k":2,"N":360,"mean":0.0121,"lower":0.0110,"upper":0.0131},
      {"series":"Average Production","k":2,"N":370,"mean":0.0120,"lower":0.0109,"upper":0.0130},
      {"series":"Average Production","k":2,"N":380,"mean":0.0120,"lower":0.0110,"upper":0.0129},
      {"series":"Average Production","k":2,"N":390,"mean":0.0120,"lower":0.0110,"upper":0.0128},
      {"series":"Average Production","k":2,"N":400,"mean":0.0118,"lower":0.0108,"upper":0.0127},
      {"series":"Average Production","k":2,"N":410,"mean":0.0118,"lower":0.0108,"upper":0.0127},
      {"series":"Average Production","k":2,"N":420,"mean":0.0117,"lower":0.0107,"upper":0.0127},
      {"series":"Average Production","k":2,"N":430,"mean":0.0117,"lower":0.0103,"upper":0.0129},
      {"series":"Average Production","k":2,"N":440,"mean":0.0119,"lower":0.0115,"upper":0.0123},
      {"series":"Average Production","k":2,"N":450,"mean":0.0119,"lower":0.0115,"upper":0.0123},
      {"series":"Average Production","k":2,"N":460,"mean":0.0118,"lower":0.0115,"upper":0.0122},
      {"series":"Average Production","k":2,"N":470,"mean":0.0118,"lower":0.0114,"upper":0.0122},
      {"series":"Average Production","k":2,"N":480,"mean":0.0119,"lower":0.0116,"upper":0.0122},
      {"series":"Average Production","k":2,"N":490,"mean":0.0119,"lower":0.0116,"upper":0.0122},
      {"series":"Average Production","k":2,"N":500,"mean":0.0119,"lower":0.0116,"upper":0.0122}
    ]
  },
  "hconcat": [
    {
      "width": 511,
      "height": 392,
      "title": {"text": "(a) First-order Sobol’ indices", "offset": 44},
      "data": {"name": "first"},
      "layer": [
        {
          "mark": {"type": "line", "strokeWidth": 0.9, "opacity": 0.75},
          "encoding": {
            "x": {"field": "N", "type": "quantitative", "scale": {"domain": [40, 510], "nice": false, "zero": false}, "axis": {"orient": "bottom", "values": [100, 200, 300, 400, 500], "title": "N", "titlePadding": 4, "labelPadding": 17}},
            "y": {"field": "mean", "type": "quantitative", "scale": {"domain": [0, 1.1], "nice": false}, "axis": {"orient": "left", "values": [0, 0.2, 0.4, 0.6, 0.8, 1], "format": "~g", "title": "Sᵢ", "titlePadding": 12}},
            "color": {"field": "series", "type": "nominal", "scale": {"domain": ["Average Production", "Variance Ratio"], "range": ["#0000ff", "#ff0000"]}, "legend": {"orient": "top-right"}},
            "detail": {"field": "k", "type": "nominal"}
          }
        },
        {
          "mark": {"type": "rule", "strokeWidth": 1, "opacity": 0.7},
          "encoding": {
            "x": {"field": "N", "type": "quantitative", "axis": {"orient": "top", "values": [100, 200, 300, 400, 500], "labels": false, "title": null}},
            "y": {"field": "lower", "type": "quantitative", "axis": {"orient": "right", "values": [0, 0.2, 0.4, 0.6, 0.8, 1], "labels": false, "title": null}},
            "y2": {"field": "upper"},
            "color": {"field": "series", "type": "nominal"}
          }
        },
        {
          "mark": {"type": "tick", "orient": "horizontal", "size": 7, "thickness": 1, "opacity": 0.7},
          "encoding": {
            "x": {"field": "N", "type": "quantitative", "axis": null},
            "y": {"field": "lower", "type": "quantitative", "axis": null},
            "color": {"field": "series", "type": "nominal"}
          }
        },
        {
          "mark": {"type": "tick", "orient": "horizontal", "size": 7, "thickness": 1, "opacity": 0.7},
          "encoding": {
            "x": {"field": "N", "type": "quantitative", "axis": null},
            "y": {"field": "upper", "type": "quantitative", "axis": null},
            "color": {"field": "series", "type": "nominal"}
          }
        }
      ],
      "resolve": {"axis": {"x": "independent", "y": "independent"}}
    },
    {
      "width": 497,
      "height": 392,
      "title": {"text": "(b) Second-order Sobol’ indices", "offset": 32},
      "data": {"name": "second"},
      "layer": [
        {
          "mark": {"type": "line", "strokeWidth": 0.9, "opacity": 0.75},
          "encoding": {
            "x": {"field": "N", "type": "quantitative", "scale": {"domain": [100, 510], "nice": false, "zero": false}, "axis": {"orient": "bottom", "values": [100, 200, 300, 400, 500], "title": "N", "titlePadding": 4, "labelPadding": 17}},
            "y": {"field": "mean", "type": "quantitative", "scale": {"domain": [0, 0.07], "nice": false}, "axis": {"orient": "left", "values": [0, 0.01, 0.02, 0.03, 0.04, 0.05, 0.06, 0.07], "format": "~g", "title": "Sᵢⱼ", "titlePadding": 12}},
            "color": {"field": "series", "type": "nominal", "scale": {"domain": ["Average Production", "Variance Ratio"], "range": ["#0000ff", "#ff0000"]}, "legend": {"orient": "top-right"}},
            "detail": {"field": "k", "type": "nominal"}
          }
        },
        {
          "mark": {"type": "rule", "strokeWidth": 1, "opacity": 0.7},
          "encoding": {
            "x": {"field": "N", "type": "quantitative", "axis": {"orient": "top", "values": [100, 200, 300, 400, 500], "labels": false, "title": null}},
            "y": {"field": "lower", "type": "quantitative", "axis": {"orient": "right", "values": [0, 0.01, 0.02, 0.03, 0.04, 0.05, 0.06, 0.07], "labels": false, "title": null}},
            "y2": {"field": "upper"},
            "color": {"field": "series", "type": "nominal"}
          }
        },
        {
          "mark": {"type": "tick", "orient": "horizontal", "size": 7, "thickness": 1, "opacity": 0.7},
          "encoding": {
            "x": {"field": "N", "type": "quantitative", "axis": null},
            "y": {"field": "lower", "type": "quantitative", "axis": null},
            "color": {"field": "series", "type": "nominal"}
          }
        },
        {
          "mark": {"type": "tick", "orient": "horizontal", "size": 7, "thickness": 1, "opacity": 0.7},
          "encoding": {
            "x": {"field": "N", "type": "quantitative", "axis": null},
            "y": {"field": "upper", "type": "quantitative", "axis": null},
            "color": {"field": "series", "type": "nominal"}
          }
        }
      ],
      "resolve": {"axis": {"x": "independent", "y": "independent"}}
    }
  ],
  "spacing": 119,
  "bounds": "flush",
  "resolve": {"scale": {"color": "independent"}, "legend": {"color": "independent"}}
}
